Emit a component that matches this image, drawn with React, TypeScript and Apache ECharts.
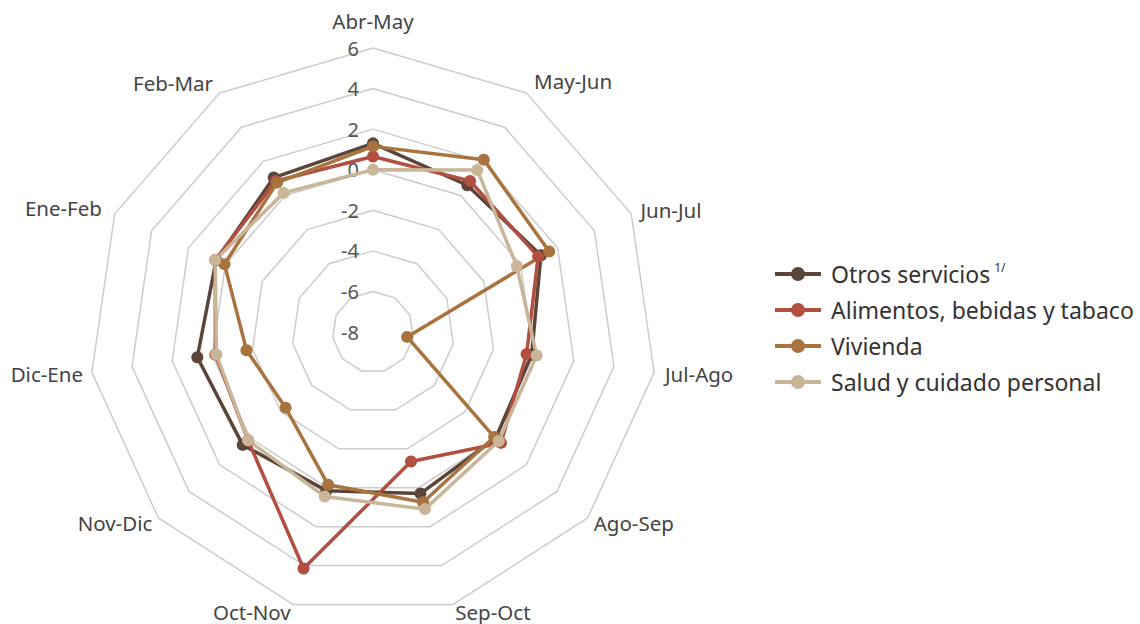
import React, { useEffect, useRef } from "react";
import * as echarts from "echarts";

const periods = ["Abr-May", "May-Jun", "Jun-Jul", "Jul-Ago", "Ago-Sep", "Sep-Oct", "Oct-Nov", "Nov-Dic", "Dic-Ene", "Ene-Feb", "Feb-Mar"];
const otrosServicios = [1.3, 0.6, 1.1, -0.1, 0.0, 0.3, 0.15, 0.5, 0.75, 0.5, 1.05];
const alimentos = [0.65, 0.85, 0.95, -0.35, 0.35, -1.35, 4.15, 0.15, -0.15, 0.55, 0.85];
const vivienda = [1.15, 2.1, 1.55, -6.3, -0.1, 0.75, -0.15, -2.3, -1.7, 0.05, 0.75];
const salud = [0.0, 1.5, -0.2, 0.15, 0.2, 1.1, 0.45, 0.15, -0.2, 0.55, 0.15];
const axisMin = -8;
const axisMax = 6;

const seriesNames = ["Otros servicios", "Alimentos, bebidas y tabaco", "Vivienda", "Salud y cuidado personal"];
const seriesColors = ["#5a4538", "#b14f40", "#a9733f", "#c9b598"];
const seriesValues = [otrosServicios, alimentos, vivienda, salud];

// per-period gap between the outer ring and its name
const nameGaps = [17, 14, 10, 11, 8, 8, 8, 8, 9, 14, 12];
const namePads = [0, 0, 0, 6, 0, 0, 0, 0, 6, 0, 0];

// ECharts radar runs counter-clockwise; reorder so the periods run clockwise
const order = [0, ...periods.slice(1).map((_, i) => periods.length - 1 - i)];

const FONT = "'Noto Sans', sans-serif";
const LEGEND_ICON =
  "path://M0,5 L46,5 L46,9 L0,9 Z M16,7 A7,7 0 1,1 30,7 A7,7 0 1,1 16,7 Z";

export default function App() {
  const ref = useRef<HTMLDivElement>(null);
  useEffect(() => {
    if (!ref.current) return;
    const chart = echarts.init(ref.current, null, { renderer: "svg" });
    chart.setOption({
      animation: false,
      backgroundColor: "#ffffff",
      legend: {
        orient: "vertical",
        left: 770,
        top: 256,
        itemWidth: 46,
        itemHeight: 14,
        itemGap: 10,
        data: seriesNames.map((n) => ({ name: n, icon: LEGEND_ICON })),
        textStyle: {
          fontFamily: FONT,
          fontSize: 23,
          lineHeight: 26,
          color: "#333333",
          padding: [0, 0, 0, 5],
          rich: {
            sup: { fontSize: 12, lineHeight: 26, color: "#333333", fontFamily: FONT, verticalAlign: "top", padding: [0, 0, 12, 4] },
          },
        },
        formatter: (name: string) => (name === "Otros servicios" ? name + "{sup|1/}" : name),
      },
      radar: {
        center: [373, 332],
        radius: 284,
        shape: "polygon",
        splitNumber: 7,
        startAngle: 90,
        indicator: order.map((idx, i) => ({
          name: periods[idx],
          min: axisMin,
          max: axisMax,
          nameGap: nameGaps[idx],
          nameTextStyle: { color: "#444444", fontSize: 20.5, fontFamily: FONT, padding: [0, 0, namePads[idx], 0] },
          ...(i === 0
            ? { axisLabel: { show: true, color: "#555555", fontSize: 20, fontFamily: FONT, margin: 14 } }
            : {}),
        })),
        axisName: { color: "#444444", fontSize: 20.5, fontFamily: FONT },
        nameGap: 12,
        axisLine: { show: false },
        axisTick: { show: false },
        axisLabel: { show: false },
        splitLine: { lineStyle: { color: "#cccccc", width: 1.5 } },
        splitArea: { show: false },
      },
      series: [
        {
          type: "radar",
          symbol: "circle",
          symbolSize: 12,
          data: seriesNames.map((n, i) => ({
            name: n,
            value: order.map((idx) => seriesValues[i][idx]),
            itemStyle: { color: seriesColors[i] },
            lineStyle: { color: seriesColors[i], width: 3.5 },
          })),
        },
      ],
    });
    return () => chart.dispose();
  }, []);
  return <div ref={ref} style={{ position: "fixed", left: 0, top: 0, width: 1140, height: 624 }} />;
}
